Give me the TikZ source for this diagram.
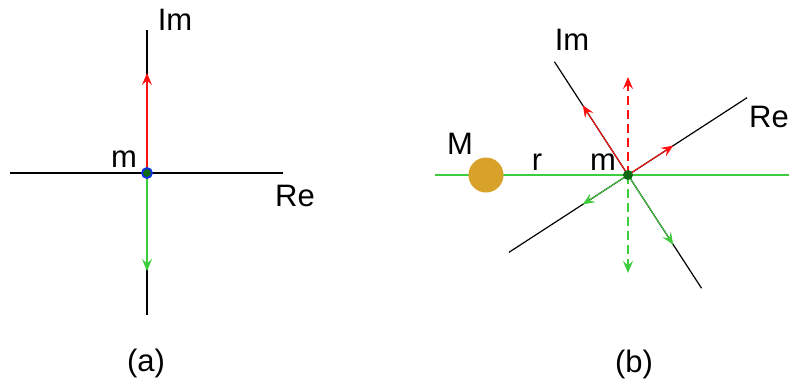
\documentclass[tikz,border=0pt]{standalone}
\usepackage{fontspec}
\setmainfont{Liberation Sans}
\usetikzlibrary{arrows.meta,calc}
\definecolor{vred}{HTML}{FF1010}
\definecolor{vgreen}{HTML}{3CCC3C}
\definecolor{mass}{HTML}{D8A22A}
\definecolor{dotgreen}{HTML}{0E6A12}
\definecolor{dotblue}{HTML}{1030E0}

\begin{document}
\begin{tikzpicture}[
  x=1pt, y=-1pt,
  >={Stealth[length=12pt,width=10pt,inset=4.5pt]},
  lbl/.style={font=\fontsize{31}{35}\selectfont, inner sep=0pt},
  axis/.style={line width=1.2pt, black},
  vec/.style={->, line width=1.2pt},
  split/.style={vec, dash pattern=on 9pt off 5pt},
  body/.style={circle, inner sep=0pt},
]
\useasboundingbox (0,0) rectangle (789,384);

% --- (a): axes upright, vectors along Im ------------------------------------
\coordinate (ca) at (147,173);
\coordinate (imtopa) at (147,30);
\coordinate (imbota) at (147,315);
\coordinate (releft) at (10,173);
\coordinate (reright) at (283,173);
\coordinate (uptipa) at (147,73);
\coordinate (dntipa) at (147,271);

\draw[axis] (releft) -- (reright);
\draw[axis] (imtopa) -- (imbota);
\draw[vec, vred] (ca) -- (uptipa);
\draw[vec, vgreen] (ca) -- (dntipa);
\node[body, draw=dotblue, fill=dotgreen, line width=1.8pt, minimum size=10pt] (ma) at (ca) {};

\node[lbl] (imlbla) at (175,20) {Im};
\node[lbl] (mlbla) at (124,159) {m};
\node[lbl] (relbla) at (295,196) {Re};
\node[lbl] (capa) at (146,363) {(a)};

% --- (b): axes turned, vectors split into Re and Im parts -------------------
\coordinate (cb) at (628,175);
\coordinate (rline) at (435,175);
\coordinate (rend) at (789,175);
\draw[line width=1.4pt, vgreen] (rline) -- (rend);
\node[body, fill=mass, minimum size=35pt] (bigm) at (486,175) {};

% Re axis at 33 deg, Im axis at 123 deg (angles taken with y pointing down)
\coordinate (reout) at ($(cb)+(-33:142)$);
\coordinate (rein) at ($(cb)+(147:142)$);
\coordinate (imout) at ($(cb)+(-123:135)$);
\coordinate (imin) at ($(cb)+(57:135)$);
\draw[axis] (rein) -- (reout);
\draw[axis] (imout) -- (imin);

\coordinate (retipup) at ($(cb)+(-33:54)$);
\coordinate (retipdn) at ($(cb)+(147:54)$);
\coordinate (imtipup) at ($(cb)+(-123:83)$);
\coordinate (imtipdn) at ($(cb)+(57:83)$);
\coordinate (uptipb) at ($(cb)+(0,-98)$);
\coordinate (dntipb) at ($(cb)+(0,98)$);

\draw[vec, vred, line width=1pt] (cb) -- (retipup);
\draw[vec, vred, line width=1pt] (cb) -- (imtipup);
\draw[vec, vgreen, line width=1pt] (cb) -- (retipdn);
\draw[vec, vgreen, line width=1pt] (cb) -- (imtipdn);
\draw[split, vred] (cb) -- (uptipb);
\draw[split, vgreen] (cb) -- (dntipb);
\node[body, fill=dotgreen, minimum size=10pt] (mb) at (cb) {};

\node[lbl] (imlblb) at (572,40) {Im};
\node[lbl, anchor=west] (relblb) at (749,117) {Re};
\node[lbl] (mlblb) at (460,144) {M};
\node[lbl] (rlbl) at (537,162) {r};
\node[lbl] (mlblc) at (603,162) {m};
\node[lbl] (capb) at (634,364) {(b)};

\end{tikzpicture}
\end{document}
